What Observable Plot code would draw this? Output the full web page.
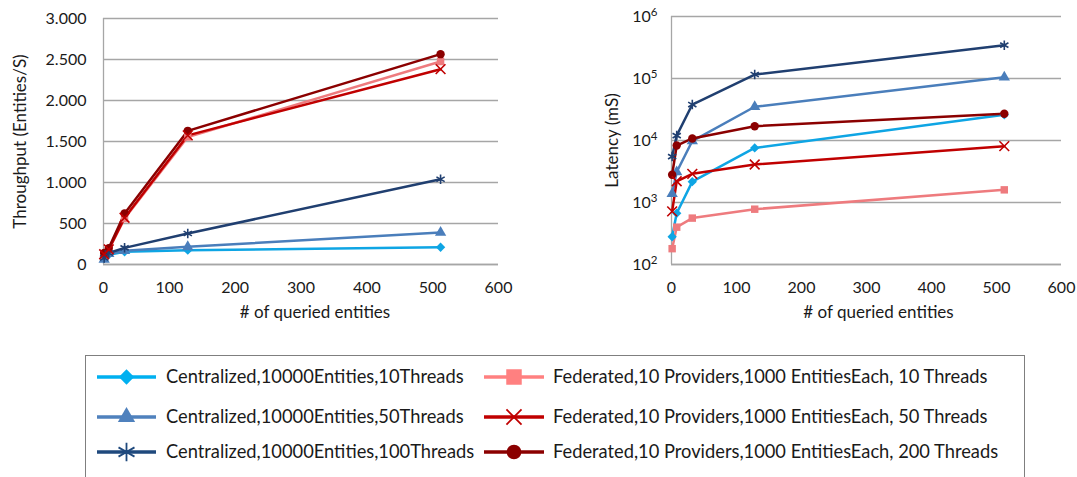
<!DOCTYPE html>
<html><head><meta charset="utf-8">
<script src="https://cdn.jsdelivr.net/npm/d3@7"></script>
<script src="https://cdn.jsdelivr.net/npm/@observablehq/plot@0.6"></script>
<style>
body{margin:0;background:#fff;width:1077px;height:477px;position:relative;overflow:hidden;font-family:Lato,"Open Sans",sans-serif;}
#left{position:absolute;left:0;top:0}
#right{position:absolute;left:560px;top:0}
#legend{position:absolute;left:0;top:340px}
</style></head><body>
<div id="left"></div><div id="right"></div><div id="legend"></div>
<script>
// ---- data ----
const xValues = [1, 8, 32, 128, 512];
const seriesNames = [
  "Centralized,10000Entities,10Threads",
  "Centralized,10000Entities,50Threads",
  "Centralized,10000Entities,100Threads",
  "Federated,10 Providers,1000 EntitiesEach, 10 Threads",
  "Federated,10 Providers,1000 EntitiesEach, 50 Threads",
  "Federated,10 Providers,1000 EntitiesEach, 200 Threads"
];
const seriesColors = ["#0EA5E4", "#4A7EBB", "#203F70", "#EE7B7E", "#C00000", "#8B0000"];
const legendColors = ["#00B0F0", "#4F81BD", "#1F497D", "#FF8080", "#C00000", "#8B0000"];
const seriesSymbols = ["diamond2", "triangle", "asterisk", "square", "times", "circle"];
const seriesFilled = [true, true, false, true, false, true];

// Throughput (Entities/S)
const throughputC10  = [75, 120, 155, 175, 210];
const throughputC50  = [60, 130, 167, 215, 390];
const throughputC100 = [80, 140, 203, 378, 1040];
const throughputF10  = [115, 180, 560, 1555, 2475];
const throughputF50  = [125, 185, 570, 1575, 2382];
const throughputF200 = [140, 200, 622, 1630, 2565];

// Latency (mS)
const latencyC10  = [280, 670, 2170, 7600, 26000];
const latencyC50  = [1380, 3100, 9800, 35000, 105000];
const latencyC100 = [5500, 12000, 38000, 116000, 345000];
const latencyF10  = [180, 400, 560, 780, 1600];
const latencyF50  = [720, 2200, 2900, 4100, 8100];
const latencyF200 = [2800, 8300, 10800, 17000, 27000];

const xTicks = [0, 100, 200, 300, 400, 500, 600];
const throughputTicks = [0, 500, 1000, 1500, 2000, 2500, 3000];
const latencyTicks = [1e2, 1e3, 1e4, 1e5, 1e6];
const xLabel = "# of queried entities";
const throughputLabel = "Throughput (Entities/S)";
const latencyLabel = "Latency (mS)";

// ---- build table ----
const throughputAll = [throughputC10, throughputC50, throughputC100, throughputF10, throughputF50, throughputF200];
const latencyAll = [latencyC10, latencyC50, latencyC100, latencyF10, latencyF50, latencyF200];
const rows = [];
seriesNames.forEach((s, i) => xValues.forEach((x, j) => rows.push({
  series: s, x, thr: throughputAll[i][j], lat: latencyAll[i][j], filled: seriesFilled[i]
})));

const grid = "#A6A6A6";
const textColor = "#1a1a1a";
const fmtThousands = d => d3.format(",")(d).replace(/,/g, ".");

function makeChart({yKey, yOpts, yTicks, yFormat, yPad, width, marginLeft, marginRight, marginTop, yLabel, yLabelDx, xLabelDx, baseline}) {
  return Plot.plot({
    width, height: 330, marginLeft, marginRight, marginTop, marginBottom: 66,
    style: {fontFamily: "Lato, 'Open Sans', sans-serif", fontSize: "16px", color: textColor, background: "transparent"},
    x: {domain: [0, 600]},
    y: yOpts,
    color: {domain: seriesNames, range: seriesColors},
    symbol: {domain: seriesNames, range: seriesSymbols},
    marks: [
      Plot.gridY({ticks: yTicks, stroke: grid, strokeOpacity: 1, strokeWidth: 1.3}),
      Plot.ruleX([0], {stroke: grid, strokeWidth: 1.3}),
      Plot.ruleY([baseline], {stroke: grid, strokeWidth: 1.3}),
      Plot.axisX({ticks: xTicks, tickSize: 0, tickPadding: 17, label: null, fill: textColor}),
      Plot.axisY({ticks: yTicks, tickSize: 0, tickPadding: yPad, tickFormat: yFormat, label: null, fill: textColor}),
      Plot.line(rows, {x: "x", y: yKey, stroke: "series", strokeWidth: 2.5}),
      Plot.dot(rows.filter(d => d.filled), {x: "x", y: yKey, fill: "series", symbol: "series", r: 4.2}),
      Plot.dot(rows.filter(d => !d.filled), {x: "x", y: yKey, stroke: "series", symbol: "series", r: 4.5, strokeWidth: 1.6}),
      Plot.text([yLabel], {frameAnchor: "left", dx: yLabelDx, rotate: -90, textAnchor: "middle", lineAnchor: "middle", fill: textColor, fontSize: 17}),
      Plot.text([xLabel], {frameAnchor: "bottom", dx: xLabelDx, dy: 48, textAnchor: "middle", lineAnchor: "middle", fill: textColor, fontSize: 17})
    ]
  });
}

const left = makeChart({
  yKey: "thr", yOpts: {domain: [0, 3000]}, yTicks: throughputTicks, yFormat: fmtThousands, yPad: 17,
  width: 520, marginLeft: 103, marginRight: 22, marginTop: 18,
  yLabel: throughputLabel, yLabelDx: -83, xLabelDx: 14, baseline: 0
});
document.getElementById("left").append(left);

const right = makeChart({
  yKey: "lat", yOpts: {type: "log", domain: [1e2, 1e6]}, yTicks: latencyTicks,
  yFormat: d => "10|" + Math.round(Math.log10(d)), yPad: 14,
  width: 517, marginLeft: 111, marginRight: 16, marginTop: 16,
  yLabel: latencyLabel, yLabelDx: -59, xLabelDx: 12, baseline: 1e2
});
document.getElementById("right").append(right);

// superscript exponents
d3.select(right).selectAll("text").each(function() {
  const t = this.textContent;
  if (/^10\|\d$/.test(t)) {
    const [base, exp] = t.split("|");
    const sel = d3.select(this);
    sel.text(base);
    sel.append("tspan").attr("dy", "-0.45em").attr("font-size", "0.72em").text(exp);
  }
});

// ---- legend ----
const lg = d3.select("#legend").append("svg").attr("width", 1077).attr("height", 137)
  .style("font-family", "Lato, 'Open Sans', sans-serif");
lg.append("rect").attr("x", 85.5).attr("y", 15.5).attr("width", 939).attr("height", 140)
  .attr("fill", "none").attr("stroke", "#7f7f7f").attr("stroke-width", 1);
const rowY = [37, 77, 112];
const colX = [{l0: 97, l1: 156, t: 166}, {l0: 484, l1: 544, t: 553}];
const symMap = {diamond2: d3.symbolDiamond2, triangle: d3.symbolTriangle, asterisk: d3.symbolAsterisk,
  square: d3.symbolSquare, times: d3.symbolTimes, circle: d3.symbolCircle};
const symSize = {diamond2: 150, triangle: 130, asterisk: 240, square: 240, times: 150, circle: 170};
seriesNames.forEach((s, i) => {
  const c = colX[Math.floor(i / 3)], y = rowY[i % 3], col = legendColors[i];
  const g = lg.append("g");
  g.append("line").attr("x1", c.l0).attr("x2", c.l1).attr("y1", y).attr("y2", y)
    .attr("stroke", col).attr("stroke-width", 3.5);
  const sym = seriesSymbols[i];
  const p = g.append("path").attr("transform", `translate(${(c.l0 + c.l1) / 2},${y})`)
    .attr("d", d3.symbol(symMap[sym], symSize[sym])());
  if (seriesFilled[i]) p.attr("fill", col); else p.attr("fill", "none").attr("stroke", col).attr("stroke-width", 1.8);
  g.append("text").attr("x", c.t).attr("y", y).attr("dy", "0.35em").attr("font-size", 18.3)
    .attr("fill", textColor).text(s);
});
</script>
</body></html>
